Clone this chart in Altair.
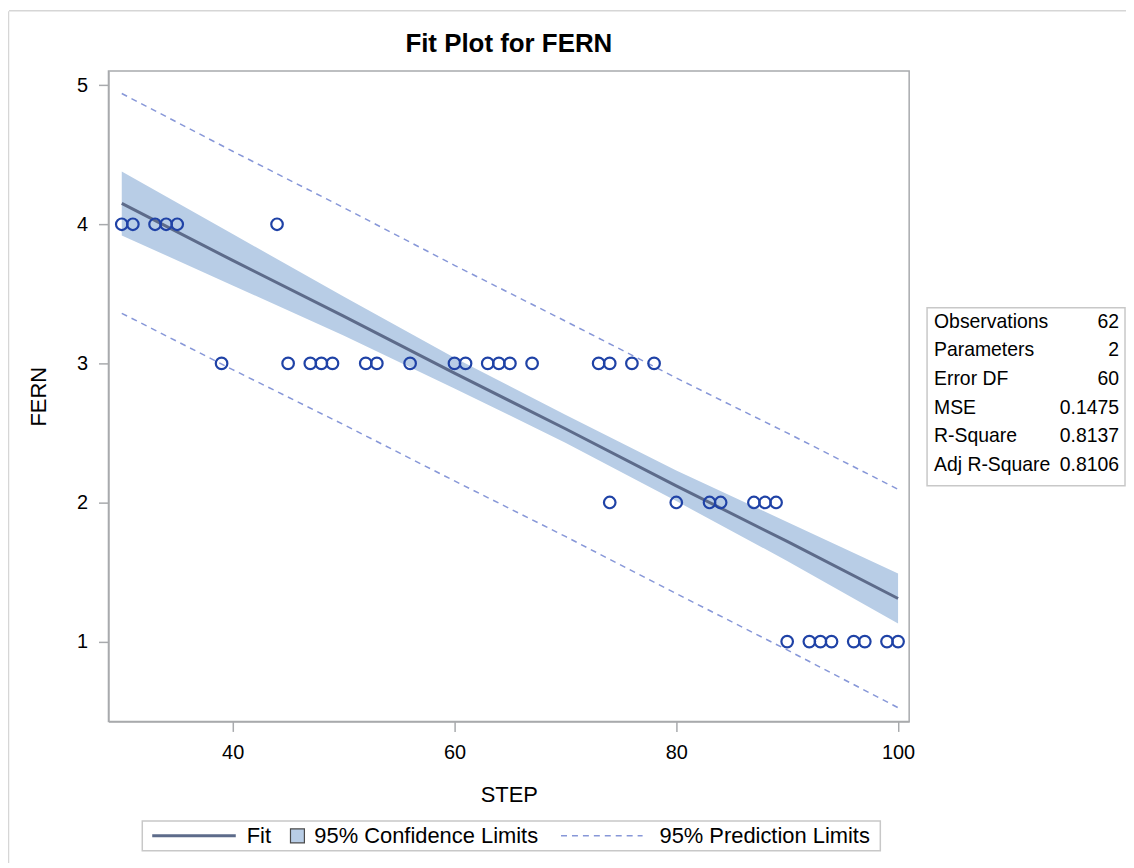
import altair as alt
import pandas as pd

# ---- data ----
step_pts = [30, 31, 33, 34, 35, 44,
            39, 45, 47, 48, 49, 52, 53, 56, 60, 61, 63, 64, 65, 67, 73, 74, 76, 78,
            74, 80, 83, 84, 87, 88, 89,
            90, 92, 93, 94, 96, 97, 99, 100]
fern_pts = [4, 4, 4, 4, 4, 4,
            3, 3, 3, 3, 3, 3, 3, 3, 3, 3, 3, 3, 3, 3, 3, 3, 3, 3,
            2, 2, 2, 2, 2, 2, 2,
            1, 1, 1, 1, 1, 1, 1, 1]

fit_step = [30, 40, 50, 60, 70, 80, 90, 100]
fit_val = [4.15, 3.74, 3.34, 2.93, 2.53, 2.12, 1.72, 1.31]
lcl = [3.92, 3.56, 3.20, 2.82, 2.43, 2.01, 1.58, 1.13]
ucl = [4.38, 3.93, 3.48, 3.04, 2.63, 2.23, 1.86, 1.49]
lpl = [3.36, 2.955, 2.56, 2.155, 1.756, 1.345, 0.94, 0.525]
upl = [4.94, 4.525, 4.12, 3.705, 3.304, 2.895, 2.50, 2.095]

stat_labels = ["Observations", "Parameters", "Error DF", "MSE", "R-Square", "Adj R-Square"]
stat_values = ["62", "2", "60", "0.1475", "0.8137", "0.8106"]

x_ticks = [40, 60, 80, 100]
y_ticks = [1, 2, 3, 4, 5]

title_text = "Fit Plot for FERN"
legend_labels = ["Fit", "95% Confidence Limits", "95% Prediction Limits"]

# ---- styling ----
FONT = "Liberation Sans"
FRAME = "#A8AAAD"
BAND = "#B8CDE6"
FITC = "#5D6B8A"
PLC = "#8797D8"
PTC = "#1F42A6"
BOXC = "#C8C8C8"
W, H = 805, 654

pts = pd.DataFrame({"STEP": step_pts, "FERN": fern_pts})
fit = pd.DataFrame({"STEP": fit_step, "fit": fit_val, "lcl": lcl, "ucl": ucl,
                    "lpl": lpl, "upl": upl})
stats = pd.DataFrame({"label": stat_labels, "value": stat_values})
one = pd.DataFrame({"a": [0]})

xs = alt.Scale(domain=[28.8, 101.0], nice=False, zero=False)
ys = alt.Scale(domain=[0.426, 5.102], nice=False, zero=False)

xax = alt.Axis(values=x_ticks, title="STEP", format="d", labelPadding=11, titlePadding=22)
yax = alt.Axis(values=y_ticks, title="FERN", format="d", labelPadding=11, titlePadding=26)

band = alt.Chart(fit).mark_area(color=BAND, opacity=1).encode(
    x=alt.X("STEP:Q", scale=xs, axis=xax),
    y=alt.Y("lcl:Q", scale=ys, axis=yax),
    y2="ucl:Q",
)
fitline = alt.Chart(fit).mark_line(color=FITC, strokeWidth=3).encode(
    x=alt.X("STEP:Q", scale=xs), y=alt.Y("fit:Q", scale=ys))
lower = alt.Chart(fit).mark_line(color=PLC, strokeWidth=1.5, strokeDash=[6, 5]).encode(
    x=alt.X("STEP:Q", scale=xs), y=alt.Y("lpl:Q", scale=ys))
upper = alt.Chart(fit).mark_line(color=PLC, strokeWidth=1.5, strokeDash=[6, 5]).encode(
    x=alt.X("STEP:Q", scale=xs), y=alt.Y("upl:Q", scale=ys))
points = alt.Chart(pts).mark_point(shape="circle", filled=False, color=PTC,
                                   size=135, strokeWidth=2.2, opacity=1).encode(
    x=alt.X("STEP:Q", scale=xs), y=alt.Y("FERN:Q", scale=ys))

# title
title = alt.Chart(one).mark_text(text=title_text, font=FONT, fontSize=26, fontWeight="bold",
                                 color="#000", align="center", baseline="middle").encode(
    x=alt.value(W / 2), y=alt.value(-27))

# outer border (top + left)
border_top = alt.Chart(one).mark_rule(color="#D6D6D6", strokeWidth=1.5).encode(
    x=alt.value(-100), x2=alt.value(1030), y=alt.value(-60.5))
border_left = alt.Chart(one).mark_rule(color="#D6D6D6", strokeWidth=1.5).encode(
    x=alt.value(-100.5), y=alt.value(-60), y2=alt.value(800))

# stats box
stats_box = alt.Chart(one).mark_rect(fill="white", stroke=BOXC, strokeWidth=1.5).encode(
    x=alt.value(823), x2=alt.value(1022), y=alt.value(238), y2=alt.value(417))
stats_base = alt.Chart(stats).transform_window(
    row="row_number()").transform_calculate(py="252 + 28.8 * (datum.row - 1)")
stats_lab = stats_base.mark_text(font=FONT, fontSize=19.5, color="#000", align="left",
                                 baseline="middle").encode(
    x=alt.value(830), y=alt.Y("py:Q", scale=None), text="label:N")
stats_val = stats_base.mark_text(font=FONT, fontSize=19.5, color="#000", align="right",
                                 baseline="middle").encode(
    x=alt.value(1016), y=alt.Y("py:Q", scale=None), text="value:N")

# legend
LY = 769
leg_box = alt.Chart(one).mark_rect(fill="white", stroke=BOXC, strokeWidth=1.5).encode(
    x=alt.value(34), x2=alt.value(776), y=alt.value(754), y2=alt.value(784))
leg_fit = alt.Chart(one).mark_rule(color=FITC, strokeWidth=3).encode(
    x=alt.value(44), x2=alt.value(128), y=alt.value(LY))
leg_sq = alt.Chart(one).mark_rect(fill=BAND, stroke="#4A4A4A", strokeWidth=1.2).encode(
    x=alt.value(183), x2=alt.value(197), y=alt.value(LY - 7), y2=alt.value(LY + 7))
leg_pl = alt.Chart(one).mark_rule(color=PLC, strokeWidth=1.5, strokeDash=[6, 5]).encode(
    x=alt.value(455), x2=alt.value(537), y=alt.value(LY))


def leg_text(t, x):
    return alt.Chart(one).mark_text(text=t, font=FONT, fontSize=22, color="#000",
                                    align="left", baseline="middle").encode(
        x=alt.value(x), y=alt.value(LY))


leg_t1 = leg_text(legend_labels[0], 139)
leg_t2 = leg_text(legend_labels[1], 207)
leg_t3 = leg_text(legend_labels[2], 554)

chart = alt.layer(
    band, lower, upper, fitline, points,
    title, border_top, border_left,
    stats_box, stats_lab, stats_val,
    leg_box, leg_fit, leg_sq, leg_pl, leg_t1, leg_t2, leg_t3,
).properties(
    width=W, height=H,
    autosize=alt.AutoSizeParams(type="none"),
    padding={"left": 101, "top": 61, "right": 218, "bottom": 140},
    background="white",
).configure(font=FONT).configure_view(
    stroke=FRAME, strokeWidth=1.5
).configure_axis(
    grid=False, domainColor=FRAME, domainWidth=1.5, tickColor=FRAME, tickWidth=1.5,
    tickSize=10, labelFont=FONT, titleFont=FONT, labelFontSize=20, titleFontSize=22,
    titleFontWeight="normal", labelColor="#000", titleColor="#000",
)

chart.save("out.html", embed_options={"renderer": "svg", "actions": False})
